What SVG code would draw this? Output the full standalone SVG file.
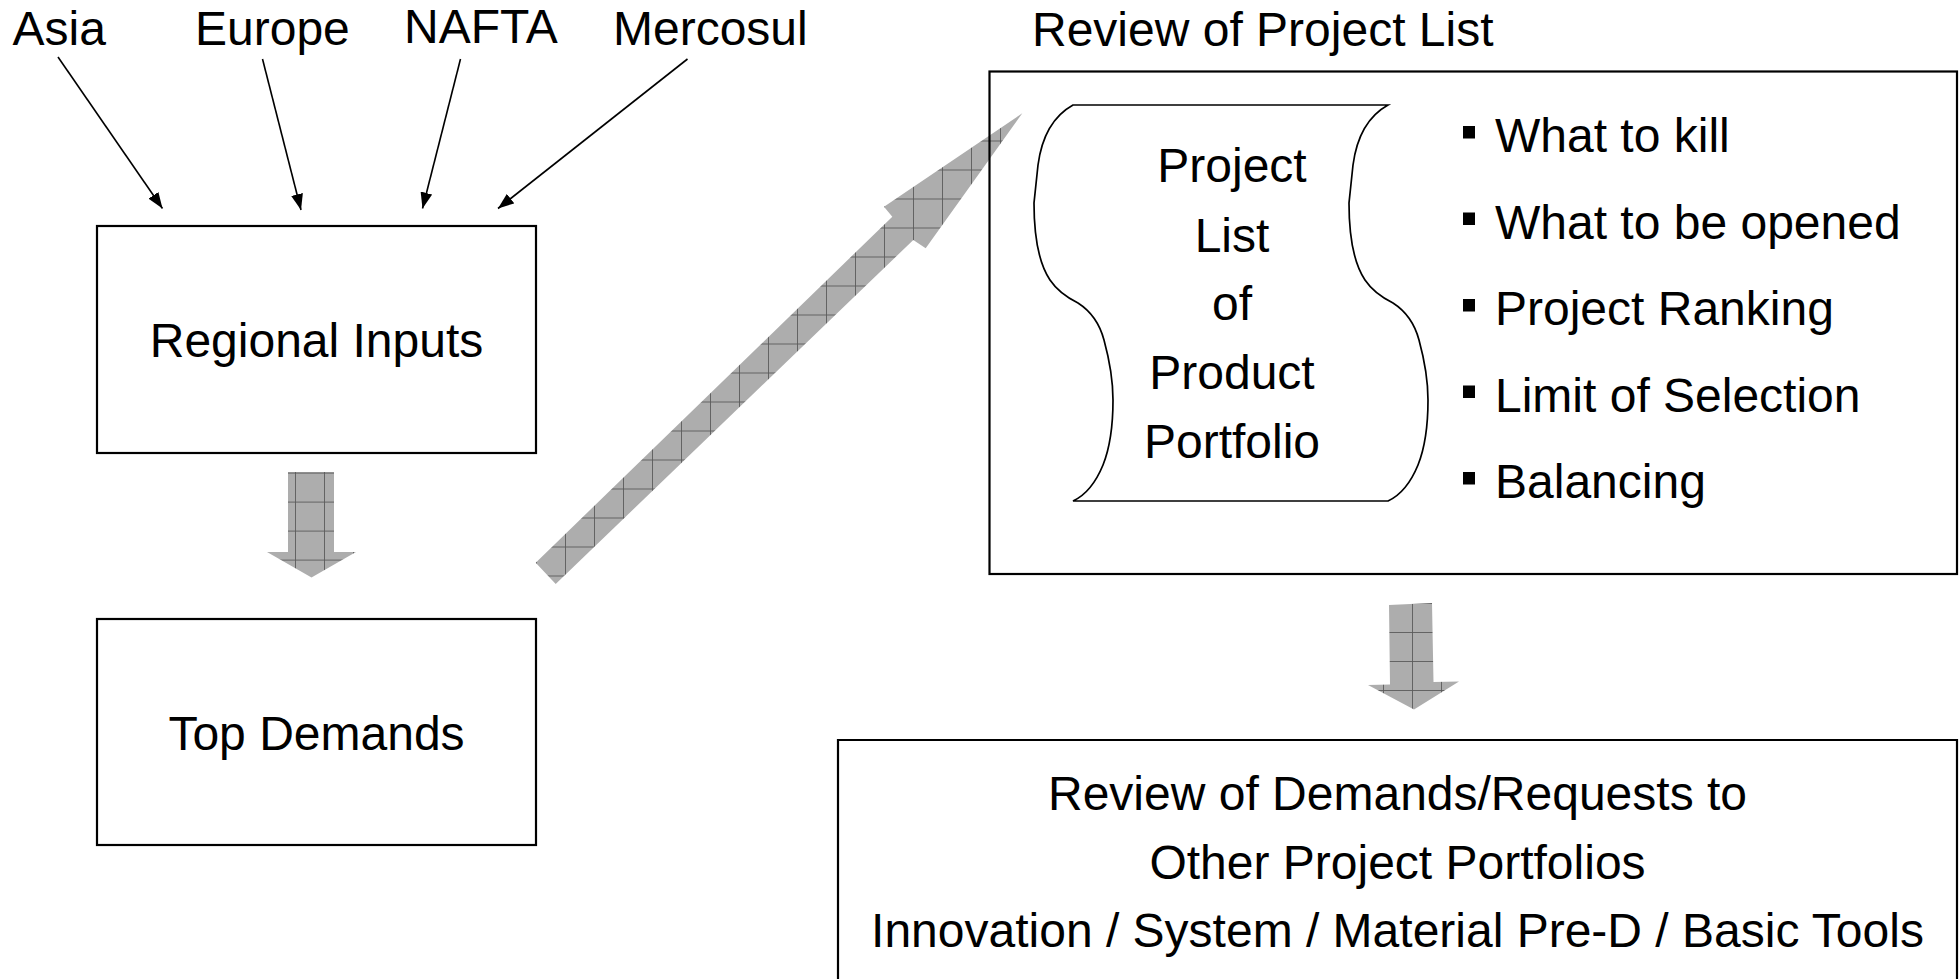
<svg xmlns="http://www.w3.org/2000/svg" width="1959" height="979" viewBox="0 0 1959 979">
<style>
text{font-family:"Liberation Sans",Arial,sans-serif;font-size:48px;fill:#000}
.c{text-anchor:middle}
.box{fill:none;stroke:#000;stroke-width:2.2}
.thin{stroke:#000;stroke-width:1.6;fill:none;marker-end:url(#ah)}
.blk{stroke:none}
</style>
<defs>
<marker id="ah" markerUnits="userSpaceOnUse" markerWidth="16" markerHeight="12" refX="16" refY="6" orient="auto">
<path d="M0,0 L16,6 L0,12 z" fill="#000"/>
</marker>
<pattern id="gDiag" patternUnits="userSpaceOnUse" width="29" height="29" x="14" y="24.5">
<rect width="29" height="29" fill="#adadad"/>
<path d="M0,0.5H29M0.5,0V29" stroke="#5a5a5a" stroke-width="0.9"/>
</pattern>
<pattern id="gLeft" patternUnits="userSpaceOnUse" width="29" height="29" x="5" y="8.6">
<rect width="29" height="29" fill="#adadad"/>
<path d="M0,0.5H29M0.5,0V29" stroke="#5a5a5a" stroke-width="0.9"/>
</pattern>
<pattern id="gRight" patternUnits="userSpaceOnUse" width="29" height="29" x="20" y="23">
<rect width="29" height="29" fill="#adadad"/>
<path d="M0,0.5H29M0.5,0V29" stroke="#5a5a5a" stroke-width="0.9"/>
</pattern>
</defs>
<rect width="1959" height="979" fill="#fff"/>

<g id="connectors">
<line class="thin" x1="58" y1="57" x2="162.5" y2="208.5"/>
<line class="thin" x1="262.5" y1="59" x2="301" y2="210"/>
<line class="thin" x1="460.5" y1="59" x2="422.5" y2="208.5"/>
<line class="thin" x1="687.5" y1="59" x2="498" y2="208.5"/>
<path class="blk" fill="url(#gLeft)" d="M288,472 L334,472 L334,552 L356,552 L311.5,577.5 L267,552 L288,552 Z"/>
<path class="blk" fill="url(#gDiag)" d="M535.7,562.7 L892.3,216.7 L884,206.7 L1022.3,113.3 L925.7,248.3 L913.3,240 L555.7,584 Z"/>
<path class="blk" fill="url(#gRight)" d="M1389,605 L1432,603 L1433.5,682 L1459,681.5 L1414,709.5 L1368,685 L1390,684.5 Z"/>
</g>

<g id="region-labels">
<text x="12.5" y="45">Asia</text>
<text x="195" y="45">Europe</text>
<text x="404" y="42.5">NAFTA</text>
<text x="613" y="45">Mercosul</text>
</g>

<g id="regional-inputs">
<rect class="box" x="97" y="226" width="439" height="227"/>
<text class="c" x="316.5" y="357">Regional Inputs</text>
</g>

<g id="top-demands">
<rect class="box" x="97" y="619" width="439" height="226"/>
<text class="c" x="316.5" y="750">Top Demands</text>
</g>

<g id="review-project-list">
<text x="1032" y="46">Review of Project List</text>
<rect class="box" x="989.5" y="71.5" width="967.5" height="502.5"/>
<g id="project-list-scroll">
<path fill="#fff" stroke="#000" stroke-width="1.7" d="M1073,105 L1388,105 C1370,115 1357,135 1353,165 L1349,203 C1349,240 1355,265 1365,280 C1373,292 1383,298 1393,303 C1407,312 1415,325 1419,340 C1425,362 1428,380 1428,400 C1428,425 1424,450 1418,465 C1411,482 1401,495 1388,501 L1073,501 C1086,495 1096,482 1103,465 C1109,450 1113,425 1113,400 C1113,380 1110,362 1104,340 C1100,325 1092,312 1078,303 C1068,298 1058,292 1050,280 C1040,265 1034,240 1034,203 L1038,165 C1042,135 1055,115 1073,105 Z"/>
<text class="c" x="1232" y="181.5">Project</text>
<text class="c" x="1232" y="251.5">List</text>
<text class="c" x="1232" y="320">of</text>
<text class="c" x="1232" y="388.5">Product</text>
<text class="c" x="1232" y="458">Portfolio</text>
</g>
<g id="review-items">
<rect x="1463" y="126" width="12" height="12.5"/>
<text x="1495" y="152">What to kill</text>
<rect x="1463" y="212.5" width="12" height="12.5"/>
<text x="1495" y="238.5">What to be opened</text>
<rect x="1463" y="299" width="12" height="12.5"/>
<text x="1495" y="325">Project Ranking</text>
<rect x="1463" y="385.5" width="12" height="12.5"/>
<text x="1495" y="411.5">Limit of Selection</text>
<rect x="1463" y="472" width="12" height="12.5"/>
<text x="1495" y="498">Balancing</text>
</g>
</g>

<g id="review-demands">
<path class="box" d="M838,990 V740 H1957 V990"/>
<text class="c" x="1397.5" y="810">Review of Demands/Requests to</text>
<text class="c" x="1397.5" y="878.5">Other Project Portfolios</text>
<text class="c" x="1397.5" y="946.5">Innovation / System / Material Pre-D / Basic Tools</text>
</g>
</svg>
